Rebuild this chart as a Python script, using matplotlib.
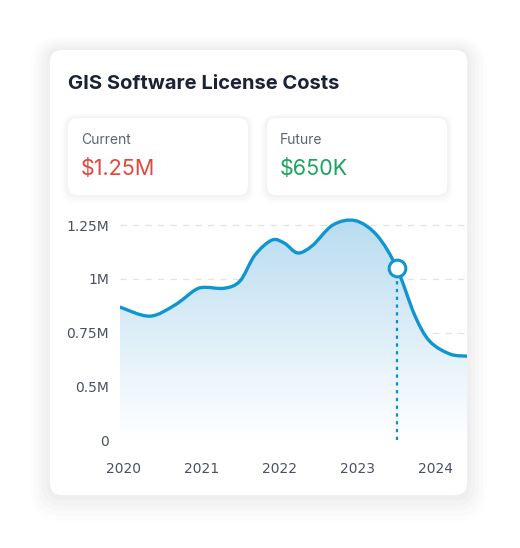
import numpy as np
import matplotlib.pyplot as plt
from matplotlib.patches import FancyBboxPatch, PathPatch
from matplotlib.path import Path
from matplotlib.colors import LinearSegmentedColormap

title = "GIS Software License Costs"
kpi_labels = ["Current", "Future"]
kpi_values = ["$1.25M", "$650K"]
years = [2019.95, 2020.33, 2020.65, 2020.91, 2021.04, 2021.29, 2021.49, 2021.68,
         2021.9, 2022.06, 2022.23, 2022.42, 2022.68, 2022.97, 2023.25, 2023.5,
         2023.73, 2023.92, 2024.18, 2024.4]
values = [0.868, 0.826, 0.877, 0.947, 0.96, 0.956, 0.99, 1.11,
          1.18, 1.165, 1.12, 1.155, 1.25, 1.27, 1.20, 1.05,
          0.83, 0.71, 0.65, 0.64]
marker_year, marker_val = 2023.5, 1.05
tick_pos = [0.25, 0.5, 0.75, 1.0, 1.25]
tick_labels = ["0", "0.5M", "0.75M", "1M", "1.25M"]
xticks = [2020, 2021, 2022, 2023, 2024]

W, H = 520, 548
fig = plt.figure(figsize=(W/100, H/100), dpi=100)
fig.patch.set_facecolor("white")
bg = fig.add_axes([0, 0, 1, 1]); bg.set_xlim(0, W); bg.set_ylim(H, 0); bg.axis("off")
for i, a in enumerate([0.008, 0.01, 0.012, 0.014, 0.016]):
    d = 40 - i*8
    bg.add_patch(FancyBboxPatch((50-d/2, 50-d/3), 417+d, 445+d, boxstyle="round,pad=0,rounding_size=%d" % (12+d/2),
                                fc="#1f2a44", ec="none", alpha=a))
bg.add_patch(FancyBboxPatch((50, 50), 417, 445, boxstyle="round,pad=0,rounding_size=12", fc="white", ec="none"))
bg.text(68, 84, title, fontsize=14.5, fontweight="bold", color="#1b2236", va="center", family="Inter")
cols = ["#e3463b", "#19a65c"]
for k, x0 in enumerate([68, 267]):
    for i, a in enumerate([0.012, 0.015, 0.018]):
        d = 12 - i*4
        bg.add_patch(FancyBboxPatch((x0-d/2, 118-d/3), 180+d, 77+d, boxstyle="round,pad=0,rounding_size=%d" % (9+d/2),
                                    fc="#1f2a44", ec="none", alpha=a))
    bg.add_patch(FancyBboxPatch((x0, 118), 180, 77, boxstyle="round,pad=0,rounding_size=9", fc="white", ec="none"))
    bg.text(x0+13, 140, kpi_labels[k], fontsize=10, color="#5d6475", va="center", family="Inter")
    bg.text(x0+13, 169, kpi_values[k], fontsize=15.5, color=cols[k], va="center", family="Inter")

x0p, x1p = 120, 467
ybot, ytop = 440, 204
ax = fig.add_axes([x0p/W, 1-ybot/H, (x1p-x0p)/W, (ybot-ytop)/H])
ax.set_xlim(2019.95, 2024.4)
per = (1.25-0.25)/(440-225)
ax.set_ylim(0.25, 0.25 + (ybot-ytop)*per)
ax.patch.set_alpha(0)
for s in ax.spines.values(): s.set_visible(False)
ax.set_yticks(tick_pos, tick_labels)
ax.set_xticks(xticks, [str(v) for v in xticks])
ax.tick_params(length=0, labelsize=10, colors="#4a5163", pad=8)
ax.tick_params(axis="x", pad=16)
for t in tick_pos:
    ax.axhline(t, color="#e0e3e8", lw=0.9, ls=(0, (5, 5)), zorder=0)

X = np.array(years); Y = np.array(values)
P = np.column_stack([X, Y])
Pp = np.vstack([P[0], P, P[-1]])
verts = [tuple(P[0])]; codes = [Path.MOVETO]
for i in range(len(P)-1):
    p0, p1, p2, p3 = Pp[i], Pp[i+1], Pp[i+2], Pp[i+3]
    c1 = p1 + (p2-p0)/6; c2 = p2 - (p3-p1)/6
    verts += [tuple(c1), tuple(c2), tuple(p2)]; codes += [Path.CURVE4]*3
line = Path(verts, codes)
fillpath = Path(verts + [(X[-1], 0.25), (X[0], 0.25), (X[0], Y[0])],
                codes + [Path.LINETO, Path.LINETO, Path.CLOSEPOLY])
grad = np.linspace(0, 1, 256)[:, None]
cmap = LinearSegmentedColormap.from_list("g", ["#ffffff", "#b9dcf0"])
im = ax.imshow(grad, cmap=cmap, extent=[X[0], X[-1], 0.25, 1.28], origin="lower", aspect="auto", zorder=1)
pp = PathPatch(fillpath, fc="none", ec="none"); ax.add_patch(pp); im.set_clip_path(pp)
ax.add_patch(PathPatch(line, fc="none", ec="#0f96d0", lw=2.4, zorder=3, capstyle="round"))
ax.plot([marker_year, marker_year], [0.25, marker_val], color="#0f8fc7", lw=1.6, ls=(0, (1.5, 2)), zorder=2)
ax.plot(marker_year, marker_val, "o", ms=12, mfc="white", mec="#0f96d0", mew=2.2, zorder=4, clip_on=False)

fig.savefig("out.png", dpi=100)
